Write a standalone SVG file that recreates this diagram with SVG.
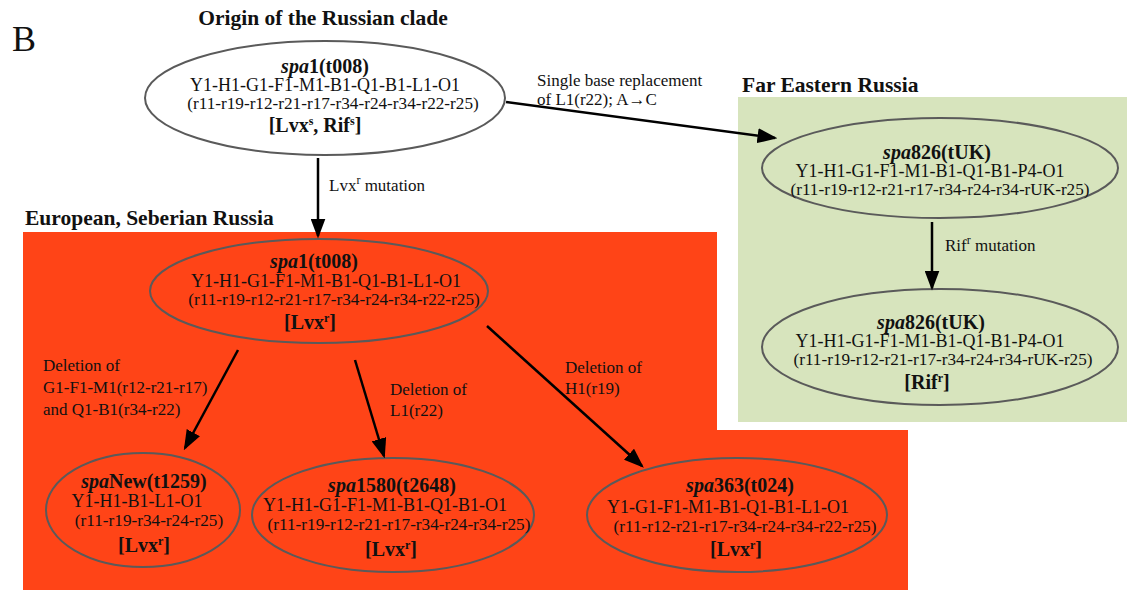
<svg xmlns="http://www.w3.org/2000/svg" width="1133" height="592" viewBox="0 0 1133 592">
<defs>
<style>
text{font-family:"Liberation Serif","Times New Roman",serif;fill:#111;}
.t{text-anchor:middle;}
.y{font-size:18px;}
.r{font-size:17.2px;}
.b{font-weight:bold;font-size:20px;}
.h{font-weight:bold;font-size:21.5px;}
.l{font-size:17px;}
.n{stroke:#5a5a5a;stroke-width:2;}
.sup{font-size:12px;}
.c line{stroke:#000;stroke-width:2.5;}
</style>
<marker id="ah" markerWidth="8" markerHeight="6" refX="7" refY="3" orient="auto" markerUnits="strokeWidth">
<path d="M0,0 L8,3 L0,6 Z" fill="#000"/>
</marker>
</defs>
<rect width="1133" height="592" fill="#fff"/>
<g id="regions">
<path d="M23,232 H717 V430 H908 V590 H23 Z" fill="#FF4417"/>
<rect x="738" y="97" width="389" height="325" fill="#D7E4BD"/>
</g>
<g id="labels-static">
<text x="12" y="51" style="font-size:36px">B</text>
<text x="323" y="25" class="h" text-anchor="middle">Origin of the Russian clade</text>
<text x="742" y="92" class="h">Far Eastern Russia</text>
<text x="25" y="225" class="h">European, Seberian Russia</text>
</g>
<g id="n-origin">
<ellipse cx="325" cy="98" rx="180" ry="57" fill="#fff" class="n"/>
<text x="325" y="73" class="t b"><tspan font-style="italic">spa</tspan>1(t008)</text>
<text x="325" y="91" class="t y">Y1-H1-G1-F1-M1-B1-Q1-B1-L1-O1</text>
<text x="333" y="109" class="t r">(r11-r19-r12-r21-r17-r34-r24-r34-r22-r25)</text>
<text x="315" y="132" class="t b">[Lvx<tspan class="sup" baseline-shift="super">s</tspan>, Rif<tspan class="sup" baseline-shift="super">s</tspan>]</text>
</g>
<g id="n-eu-t008">
<ellipse cx="319" cy="291" rx="169" ry="52" fill="#FF4417" class="n"/>
<text x="314" y="268" class="t b"><tspan font-style="italic">spa</tspan>1(t008)</text>
<text x="326" y="287" class="t y">Y1-H1-G1-F1-M1-B1-Q1-B1-L1-O1</text>
<text x="334" y="305" class="t r">(r11-r19-r12-r21-r17-r34-r24-r34-r22-r25)</text>
<text x="310" y="329" class="t b">[Lvx<tspan class="sup" baseline-shift="super">r</tspan>]</text>
</g>
<g id="n-fe-1">
<ellipse cx="940" cy="168" rx="178" ry="50" fill="#D7E4BD" class="n"/>
<text x="937" y="159" class="t b"><tspan font-style="italic">spa</tspan>826(tUK)</text>
<text x="930" y="177" class="t y">Y1-H1-G1-F1-M1-B1-Q1-B1-P4-O1</text>
<text x="940" y="195" class="t r">(r11-r19-r12-r21-r17-r34-r24-r34-rUK-r25)</text>
</g>
<g id="n-fe-2">
<ellipse cx="940" cy="347" rx="178" ry="58" fill="#D7E4BD" class="n"/>
<text x="931" y="329" class="t b"><tspan font-style="italic">spa</tspan>826(tUK)</text>
<text x="930" y="347" class="t y">Y1-H1-G1-F1-M1-B1-Q1-B1-P4-O1</text>
<text x="943" y="365" class="t r">(r11-r19-r12-r21-r17-r34-r24-r34-rUK-r25)</text>
<text x="927" y="389" class="t b">[Rif<tspan class="sup" baseline-shift="super">r</tspan>]</text>
</g>
<g id="n-new">
<ellipse cx="143" cy="510" rx="97" ry="57" fill="#FF4417" class="n"/>
<text x="144" y="488" class="t b"><tspan font-style="italic">spa</tspan>New(t1259)</text>
<text x="137" y="507" class="t y">Y1-H1-B1-L1-O1</text>
<text x="149" y="526" class="t r">(r11-r19-r34-r24-r25)</text>
<text x="144" y="552" class="t b">[Lvx<tspan class="sup" baseline-shift="super">r</tspan>]</text>
</g>
<g id="n-1580">
<ellipse cx="393" cy="515" rx="141" ry="57" fill="#FF4417" class="n"/>
<text x="392" y="492" class="t b"><tspan font-style="italic">spa</tspan>1580(t2648)</text>
<text x="385" y="511" class="t y">Y1-H1-G1-F1-M1-B1-Q1-B1-O1</text>
<text x="399" y="530" class="t r">(r11-r19-r12-r21-r17-r34-r24-r34-r25)</text>
<text x="391" y="556" class="t b">[Lvx<tspan class="sup" baseline-shift="super">r</tspan>]</text>
</g>
<g id="n-363">
<ellipse cx="737" cy="515" rx="150" ry="57" fill="#FF4417" class="n"/>
<text x="740" y="492" class="t b"><tspan font-style="italic">spa</tspan>363(t024)</text>
<text x="728" y="513" class="t y">Y1-G1-F1-M1-B1-Q1-B1-L1-O1</text>
<text x="745" y="532" class="t r">(r11-r12-r21-r17-r34-r24-r34-r22-r25)</text>
<text x="736" y="556" class="t b">[Lvx<tspan class="sup" baseline-shift="super">r</tspan>]</text>
</g>
<g id="connectors" class="c">
<line x1="318" y1="158" x2="318" y2="236" marker-end="url(#ah)"/>
<line x1="506" y1="102" x2="775" y2="138" marker-end="url(#ah)"/>
<line x1="932" y1="222" x2="932" y2="288" marker-end="url(#ah)"/>
<line x1="238" y1="350" x2="185" y2="448" marker-end="url(#ah)"/>
<line x1="355" y1="360" x2="384" y2="456" marker-end="url(#ah)"/>
<line x1="487" y1="326" x2="642" y2="466" marker-end="url(#ah)"/>
</g>
<g id="connector-labels" class="l">
<text x="329" y="191" class="l">Lvx<tspan class="sup" baseline-shift="super">r</tspan> mutation</text>
<text x="537" y="86" class="l">Single base replacement</text>
<text x="537" y="105" class="l">of L1(r22); A→C</text>
<text x="945" y="251" class="l">Rif<tspan class="sup" baseline-shift="super">r</tspan> mutation</text>
<text x="43" y="371" class="l">Deletion of</text>
<text x="43" y="393" class="l">G1-F1-M1(r12-r21-r17)</text>
<text x="43" y="415" class="l">and Q1-B1(r34-r22)</text>
<text x="390" y="395" class="l">Deletion of</text>
<text x="390" y="416" class="l">L1(r22)</text>
<text x="565" y="373" class="l">Deletion of</text>
<text x="565" y="394" class="l">H1(r19)</text>
</g>
</svg>
